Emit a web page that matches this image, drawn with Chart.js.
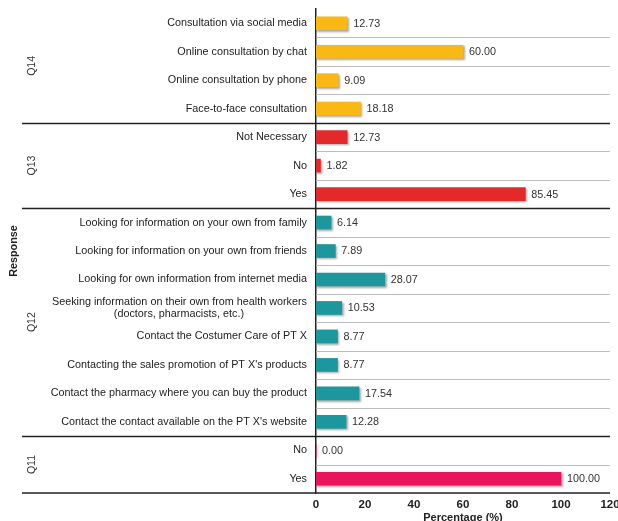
<!DOCTYPE html>
<html>
<head>
<meta charset="utf-8">
<script src="https://cdn.jsdelivr.net/npm/chart.js@4.4.1/dist/chart.umd.min.js"></script>
<style>
  html, body { margin: 0; padding: 0; background: #fff; }
  #wrap { width: 618px; height: 521px; }
</style>
</head>
<body>
<div id="wrap"><canvas id="chart"></canvas></div>
<script>
// ── Data ───────────────────────────────────────────────────────────

const responses = [
  "Consultation via social media",
  "Online consultation by chat",
  "Online consultation by phone",
  "Face-to-face consultation",
  "Not Necessary",
  "No",
  "Yes",
  "Looking for information on your own from family",
  "Looking for information on your own from friends",
  "Looking for own information from internet media",
  ["Seeking information on their own from health workers", "(doctors, pharmacists, etc.)"],
  "Contact the Costumer Care of PT X",
  "Contacting the sales promotion of PT X's products",
  "Contact the pharmacy where you can buy the product",
  "Contact the contact available on the PT X's website",
  "No",
  "Yes"
];

const percentages = [12.73, 60.00, 9.09, 18.18, 12.73, 1.82, 85.45, 6.14, 7.89, 28.07, 10.53, 8.77, 8.77, 17.54, 12.28, 0.00, 100.00];

// question of each row
const questions = ["Q14", "Q14", "Q14", "Q14", "Q13", "Q13", "Q13",
  "Q12", "Q12", "Q12", "Q12", "Q12", "Q12", "Q12", "Q12", "Q11", "Q11"];

const xTicks = [0, 20, 40, 60, 80, 100, 120];

const questionColors = { Q14: "#f9b813", Q13: "#e4292a", Q12: "#1c979d", Q11: "#e9145b" };

const FONT = "'Liberation Sans', Arial, sans-serif";
const LABEL_SIZE = 10.8;

// ── Helpers ────────────────────────────────────────────────────────

const measureCtx = document.createElement("canvas").getContext("2d");
measureCtx.font = LABEL_SIZE + "px " + FONT;

// centre the shorter lines of a multi-line label under the longest one
function centreLines(label) {
  if (!Array.isArray(label)) return label;
  const widths = label.map(function (l) { return measureCtx.measureText(l).width; });
  const maxW = Math.max.apply(null, widths);
  const spaceW = measureCtx.measureText(" ").width;
  return label.map(function (l, i) {
    const n = Math.round((maxW - widths[i]) / 2 / spaceW);
    return l + " ".repeat(n);
  });
}

function rowBoundary(scale, i) {
  // pixel between row i-1 and row i
  return (scale.getPixelForTick(i - 1) + scale.getPixelForTick(i)) / 2;
}

// ── Plugins ────────────────────────────────────────────────────────

const barShadow = {
  id: "barShadow",
  beforeDatasetsDraw(chart) {
    const ctx = chart.ctx;
    ctx.save();
    ctx.shadowColor = "rgba(0,0,0,0.35)";
    ctx.shadowBlur = 2;
    ctx.shadowOffsetX = 1.5;
    ctx.shadowOffsetY = 1.5;
  },
  afterDatasetsDraw(chart) {
    chart.ctx.restore();
  }
};

const rowLines = {
  id: "rowLines",
  beforeDatasetsDraw(chart) {
    const ctx = chart.ctx;
    const area = chart.chartArea;
    const y = chart.scales.y;
    ctx.save();
    for (let i = 1; i < responses.length; i++) {
      const py = Math.round(rowBoundary(y, i)) + 0.5;
      const groupEdge = questions[i] !== questions[i - 1];
      ctx.beginPath();
      if (groupEdge) {
        ctx.strokeStyle = "#222";
        ctx.lineWidth = 1.5;
        ctx.moveTo(22, py);
      } else {
        ctx.strokeStyle = "#bdbdbd";
        ctx.lineWidth = 1.2;
        ctx.moveTo(area.left, py);
      }
      ctx.lineTo(area.right, py);
      ctx.stroke();
    }
    // bottom line
    ctx.beginPath();
    ctx.strokeStyle = "#222";
    ctx.lineWidth = 1.5;
    ctx.moveTo(22, area.bottom);
    ctx.lineTo(area.right, area.bottom);
    ctx.stroke();
    ctx.restore();
  }
};

const annotations = {
  id: "annotations",
  afterDraw(chart) {
    const ctx = chart.ctx;
    const area = chart.chartArea;
    const x = chart.scales.x;
    const y = chart.scales.y;
    ctx.save();

    // value labels
    ctx.font = LABEL_SIZE + "px " + FONT;
    ctx.fillStyle = "#333";
    ctx.textAlign = "left";
    ctx.textBaseline = "middle";
    percentages.forEach(function (v, i) {
      ctx.fillText(v.toFixed(2), x.getPixelForValue(v) + 6, y.getPixelForTick(i) + 0.5);
    });

    // question group labels
    let start = 0;
    for (let i = 1; i <= questions.length; i++) {
      if (i === questions.length || questions[i] !== questions[start]) {
        const top = start === 0 ? area.top : rowBoundary(y, start);
        const bottom = i === questions.length ? area.bottom : rowBoundary(y, i);
        ctx.save();
        ctx.translate(32, (top + bottom) / 2);
        ctx.rotate(-Math.PI / 2);
        ctx.textAlign = "center";
        ctx.font = "10.5px " + FONT;
        ctx.fillStyle = "#333";
        ctx.fillText(questions[start], 0, 0);
        ctx.restore();
        start = i;
      }
    }

    // axis title
    ctx.translate(14, (area.top + area.bottom) / 2);
    ctx.rotate(-Math.PI / 2);
    ctx.textAlign = "center";
    ctx.font = "bold 10.8px " + FONT;
    ctx.fillStyle = "#222";
    ctx.fillText("Response", 0, 0);
    ctx.restore();
  }
};

// ── Chart ──────────────────────────────────────────────────────────

new Chart(document.getElementById("chart"), {
  type: "bar",
  data: {
    labels: responses.map(centreLines),
    datasets: [{
      data: percentages,
      backgroundColor: questions.map(function (q) { return questionColors[q]; }),
      barThickness: 13,
      borderWidth: 0
    }]
  },
  options: {
    indexAxis: "y",
    responsive: true,
    maintainAspectRatio: false,
    animation: false,
    layout: { padding: { top: 9, right: 8, left: 0, bottom: 0 } },
    plugins: {
      legend: { display: false },
      tooltip: { enabled: false }
    },
    scales: {
      x: {
        min: 0,
        max: 120,
        afterBuildTicks: function (scale) {
          scale.ticks = xTicks.map(function (v) { return { value: v }; });
        },
        afterFit: function (scale) {
          scale.height = 28;
          scale.paddingLeft = 0;
          scale.paddingRight = 0;
        },
        grid: { display: false, drawTicks: false },
        border: { display: false },
        ticks: {
          color: "#222",
          padding: 5,
          font: { family: FONT, size: 11.5, weight: "bold" }
        },
        title: {
          display: true,
          text: "Percentage (%)",
          color: "#222",
          padding: { top: 0, bottom: -4 },
          font: { family: FONT, size: 11, weight: "bold" }
        }
      },
      y: {
        afterFit: function (scale) {
          scale.width = 316;
          scale.paddingTop = 0;
          scale.paddingBottom = 0;
        },
        grid: { display: false, drawTicks: false },
        border: { display: true, color: "#222", width: 1.5 },
        ticks: {
          color: "#222",
          padding: 9,
          autoSkip: false,
          font: { family: FONT, size: LABEL_SIZE, lineHeight: 1.1 }
        }
      }
    }
  },
  plugins: [rowLines, barShadow, annotations]
});
</script>
</body>
</html>
